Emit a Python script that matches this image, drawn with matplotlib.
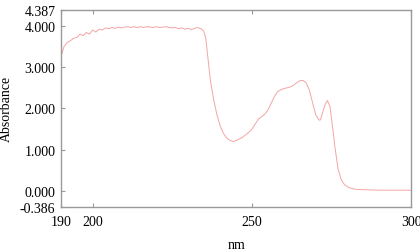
import matplotlib
matplotlib.use("Agg")
import matplotlib.pyplot as plt

# wavelength (nm) and absorbance
wavelength = [190, 191, 192, 193, 194, 195, 196, 197, 198, 199, 200, 201, 202, 203,
              204, 205, 206, 207, 208, 209, 210, 211, 212, 213, 214, 215, 216, 217,
              218, 219, 220, 221, 222, 223, 224, 225, 226, 227, 228, 229, 230, 231,
              232, 233, 234, 234.8, 235.5, 236.2, 237, 238, 239, 240, 241, 242, 243,
              244, 245, 246, 247, 248, 249, 250, 251, 252, 253, 254, 255, 256, 257,
              258, 259, 260, 261, 262, 263, 264, 265, 266, 267, 268, 269, 270, 271,
              271.5, 272, 273, 273.7, 274.5, 275, 276, 277, 278, 279, 280, 281, 282,
              283, 284, 286, 288, 290, 293, 296, 300]
absorbance = [3.25, 3.50, 3.60, 3.64, 3.70, 3.72, 3.80, 3.76, 3.84, 3.80, 3.90, 3.85,
              3.92, 3.90, 3.95, 3.93, 3.96, 3.94, 3.97, 3.95, 3.97, 3.98, 3.96, 3.98,
              3.96, 3.98, 3.96, 3.98, 3.97, 3.96, 3.98, 3.96, 3.97, 3.98, 3.96, 3.95,
              3.96, 3.93, 3.95, 3.92, 3.94, 3.91, 3.94, 3.96, 3.93, 3.88, 3.70, 3.20,
              2.65, 2.20, 1.85, 1.58, 1.40, 1.29, 1.23, 1.20, 1.22, 1.26, 1.30, 1.36,
              1.42, 1.50, 1.62, 1.74, 1.80, 1.86, 1.96, 2.12, 2.28, 2.40, 2.45, 2.48,
              2.50, 2.52, 2.56, 2.62, 2.67, 2.68, 2.62, 2.45, 2.15, 1.85, 1.72, 1.72,
              1.85, 2.10, 2.19, 2.05, 1.75, 1.10, 0.55, 0.28, 0.16, 0.10, 0.07, 0.05,
              0.04, 0.035, 0.03, 0.025, 0.02, 0.02, 0.02, 0.02]

xticks = [190, 200, 250, 300]
yticks = [-0.386, 0.0, 1.0, 2.0, 3.0, 4.0, 4.387]

plt.rcParams['font.family'] = 'serif'
plt.rcParams['font.serif'] = ['Liberation Serif']

fig = plt.figure(figsize=(4.2, 2.53), dpi=100)
ax = fig.add_axes([0.145, 0.178, 0.834, 0.779])
ax.plot(wavelength, absorbance, color='#f4a4a4', lw=0.7)

ax.set_xlim(190, 300)
ax.set_ylim(-0.386, 4.387)
ax.set_xticks(xticks)
ax.set_xticklabels([str(t) for t in xticks])
ax.set_yticks(yticks)
ax.set_yticklabels(['%.3f' % t for t in yticks])
ax.tick_params(direction='in', length=3, color='#999999', labelsize=10,
               top=True, right=False)
ax.tick_params(axis='x', pad=6)
ax.tick_params(axis='y', pad=4)
for s in ax.spines.values():
    s.set_color('#999999')
    s.set_linewidth(1.0)

ax.set_xlabel('nm', fontsize=10, labelpad=7)
ax.set_ylabel('Absorbance', fontsize=10, labelpad=5)

fig.savefig('out.png', dpi=100)
